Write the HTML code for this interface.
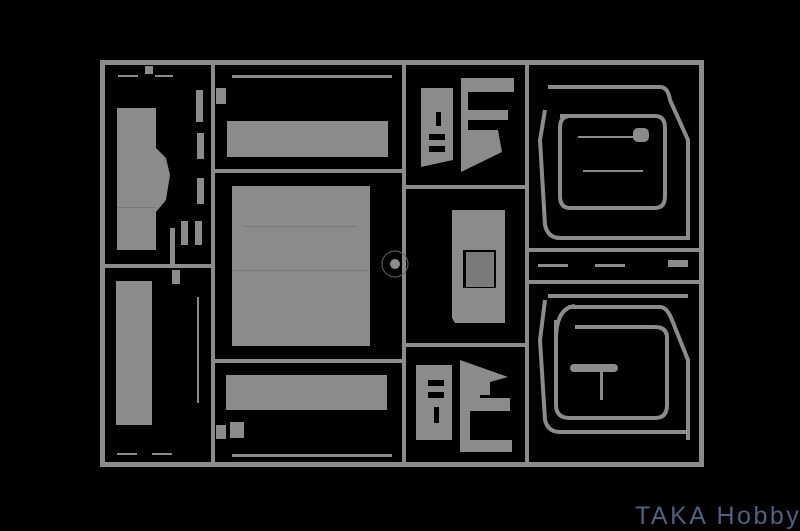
<!DOCTYPE html>
<html><head><style>
html,body{margin:0;padding:0;background:#000;}
.w{position:relative;width:800px;height:531px;overflow:hidden;background:#000;}
.t{position:absolute;left:635px;top:504px;font:25px/25px "Liberation Sans",sans-serif;color:#4f6080;letter-spacing:2.5px;white-space:nowrap;}
</style></head><body><div class="w">
<svg width="800" height="531" viewBox="0 0 800 531" xmlns="http://www.w3.org/2000/svg">
<g fill="#8b8b8b" stroke="none">
<rect x="100" y="60" width="604" height="5"/>
<rect x="100" y="462" width="604" height="5"/>
<rect x="100" y="60" width="5" height="407"/>
<rect x="699" y="60" width="5" height="407"/>
<rect x="211" y="60" width="4" height="407"/>
<rect x="402" y="60" width="4" height="407"/>
<rect x="525" y="60" width="4" height="407"/>
<rect x="100" y="264" width="115" height="4"/>
<rect x="211" y="169" width="195" height="4"/>
<rect x="211" y="359" width="195" height="4"/>
<rect x="402" y="185" width="127" height="4"/>
<rect x="402" y="343" width="127" height="4"/>
<rect x="525" y="248" width="179" height="4"/>
<rect x="525" y="280" width="179" height="4"/>
<path d="M117 108 H156 V148 L166 158 L170 175 L166 200 L156 212 V250 H117 Z"/>
<rect x="116" y="281" width="36" height="144"/>
<rect x="196" y="90" width="7" height="32"/><rect x="197" y="133" width="7" height="26"/>
<rect x="197" y="178" width="7" height="26"/><rect x="181" y="221" width="7" height="24"/>
<rect x="195" y="221" width="7" height="24"/><rect x="170" y="228" width="5" height="38"/>
<rect x="172" y="270" width="8" height="14"/>
<rect x="197" y="297" width="2" height="106"/>
<rect x="118" y="75" width="20" height="2"/><rect x="155" y="75" width="18" height="2"/>
<rect x="145" y="66" width="8" height="8"/>
<rect x="117" y="453" width="20" height="2"/><rect x="152" y="453" width="20" height="2"/>
<rect x="227" y="121" width="161" height="36"/>
<rect x="232" y="186" width="138" height="160"/>
<rect x="226" y="375" width="161" height="35"/>
<rect x="232" y="75" width="160" height="3"/>
<rect x="232" y="454" width="160" height="3"/>
<rect x="230" y="422" width="14" height="16"/>
<rect x="216" y="88" width="10" height="16"/><rect x="216" y="425" width="10" height="14"/>
<path d="M452 210 H505 V323 H455 L452 318 Z"/>
<circle cx="395" cy="264" r="5"/>
<path d="M421 88 H453 V160 L421 167 Z"/>
<path d="M461 78 H514 V92 H468 V110 H508 V120 H468 V130 H498 L502 152 L461 172 Z"/>
<path d="M416 365 H452 V440 H416 Z"/>
<path d="M460 360 L508 377 L490 382 V395 H480 V398 H510 V411 H470 V440 H512 V452 H460 Z"/>
</g>
<g fill="#000">
<rect x="436" y="112" width="5" height="14"/><rect x="429" y="134" width="16" height="6"/><rect x="429" y="146" width="16" height="6"/>
<rect x="434" y="407" width="5" height="16"/><rect x="428" y="380" width="16" height="6"/><rect x="428" y="392" width="16" height="6"/>
<rect x="463" y="250" width="33" height="38"/>
</g>
<rect x="466" y="252" width="28" height="35" fill="#7a7a7a"/>
<g fill="none" stroke="#8b8b8b" stroke-width="4">
<path d="M548 87 H660 Q668 87 670 100 L688 140 L688 240"/>
<path d="M545 110 L540 140 L545 225 Q548 238 560 238 H688"/>
<path d="M560 116 H655 Q665 116 665 128 V196 Q665 208 655 208 H570 Q560 208 560 196 V128 Q560 116 570 116"/>
<path d="M548 296 H688"/>
<path d="M545 300 L540 340 L545 420 Q548 432 560 432 H688"/>
<path d="M568 307 H660 Q667 307 672 320 L688 360 V440"/>
<path d="M556 340 Q556 308 575 306"/>
<path d="M556 320 V405 Q556 418 570 418 H655 Q667 418 667 405 V338 Q667 327 655 327 H575"/>
</g>
<g fill="#8b8b8b">
<rect x="578" y="136" width="70" height="2"/><rect x="583" y="170" width="60" height="2"/>
<rect x="633" y="128" width="16" height="14" rx="5"/>
<rect x="570" y="364" width="48" height="8" rx="4"/>
<rect x="600" y="372" width="3" height="28"/>
<rect x="538" y="264" width="30" height="3"/><rect x="595" y="264" width="30" height="3"/><rect x="668" y="260" width="20" height="7"/>
</g>
<g fill="#777"><rect x="243" y="226" width="115" height="1"/><rect x="233" y="270" width="136" height="1"/><rect x="117" y="207" width="39" height="1"/></g>
<circle cx="395" cy="264" r="13" fill="none" stroke="#666" stroke-width="1"/>
</svg>
<div class="t">TAKA Hobby</div>
</div></body></html>
